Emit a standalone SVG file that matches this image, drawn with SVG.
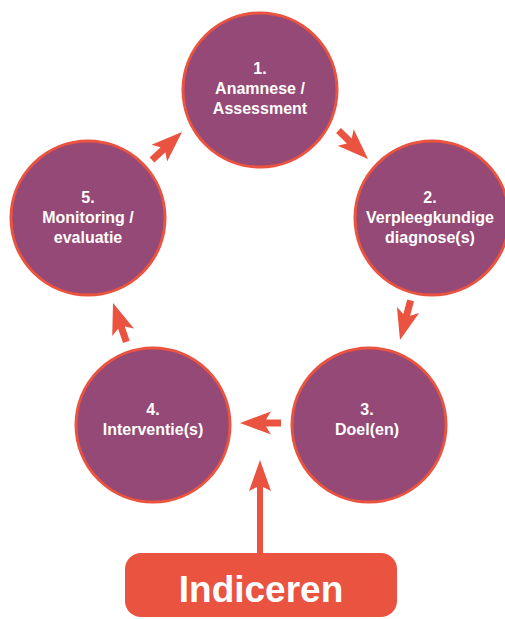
<svg xmlns="http://www.w3.org/2000/svg" width="505" height="619" viewBox="0 0 505 619">
<style>
.node circle{fill:#954976;stroke:#E9533F;stroke-width:3}
.node text{fill:#fff;font-family:"Liberation Sans",Arial,sans-serif;font-weight:bold;font-size:16px;text-anchor:middle}
.arr{fill:#E9533F}
</style>
<defs>
<path id="ah" d="M0,0 L-31,-11.5 L-26,-3.5 L-41,-3.5 L-41,3.5 L-26,3.5 L-31,11.5 Z"/>
</defs>
<g id="connectors" class="arr">
<use href="#ah" transform="translate(368,159) rotate(44)"/>
<use href="#ah" transform="translate(400,340) rotate(105)"/>
<use href="#ah" transform="translate(240,423) rotate(180)"/>
<use href="#ah" transform="translate(113,303) rotate(-109)"/>
<use href="#ah" transform="translate(182,132) rotate(-43)"/>
<path d="M260,460 L249,491 L257,487 L257,556 L263,556 L263,487 L271,491 Z"/>
</g>
<g id="n1" class="node"><circle cx="260" cy="90" r="77"/><text x="260" y="74">1.</text><text x="260" y="94">Anamnese /</text><text x="260" y="114">Assessment</text></g>
<g id="n2" class="node"><circle cx="432" cy="218" r="77"/><text x="430" y="203">2.</text><text x="430" y="223">Verpleegkundige</text><text x="430" y="243">diagnose(s)</text></g>
<g id="n3" class="node"><circle cx="369" cy="425" r="77"/><text x="367" y="415">3.</text><text x="367" y="435">Doel(en)</text></g>
<g id="n4" class="node"><circle cx="153" cy="425" r="77"/><text x="153" y="415">4.</text><text x="153" y="435">Interventie(s)</text></g>
<g id="n5" class="node"><circle cx="88" cy="218" r="77"/><text x="88" y="203">5.</text><text x="88" y="223">Monitoring /</text><text x="88" y="243">evaluatie</text></g>
<g id="indiceren"><rect x="125" y="553" width="272" height="64" rx="16" fill="#E9533F"/><text x="261" y="602" fill="#fff" font-family="Liberation Sans,Arial,sans-serif" font-weight="bold" font-size="37" text-anchor="middle">Indiceren</text></g>
</svg>
